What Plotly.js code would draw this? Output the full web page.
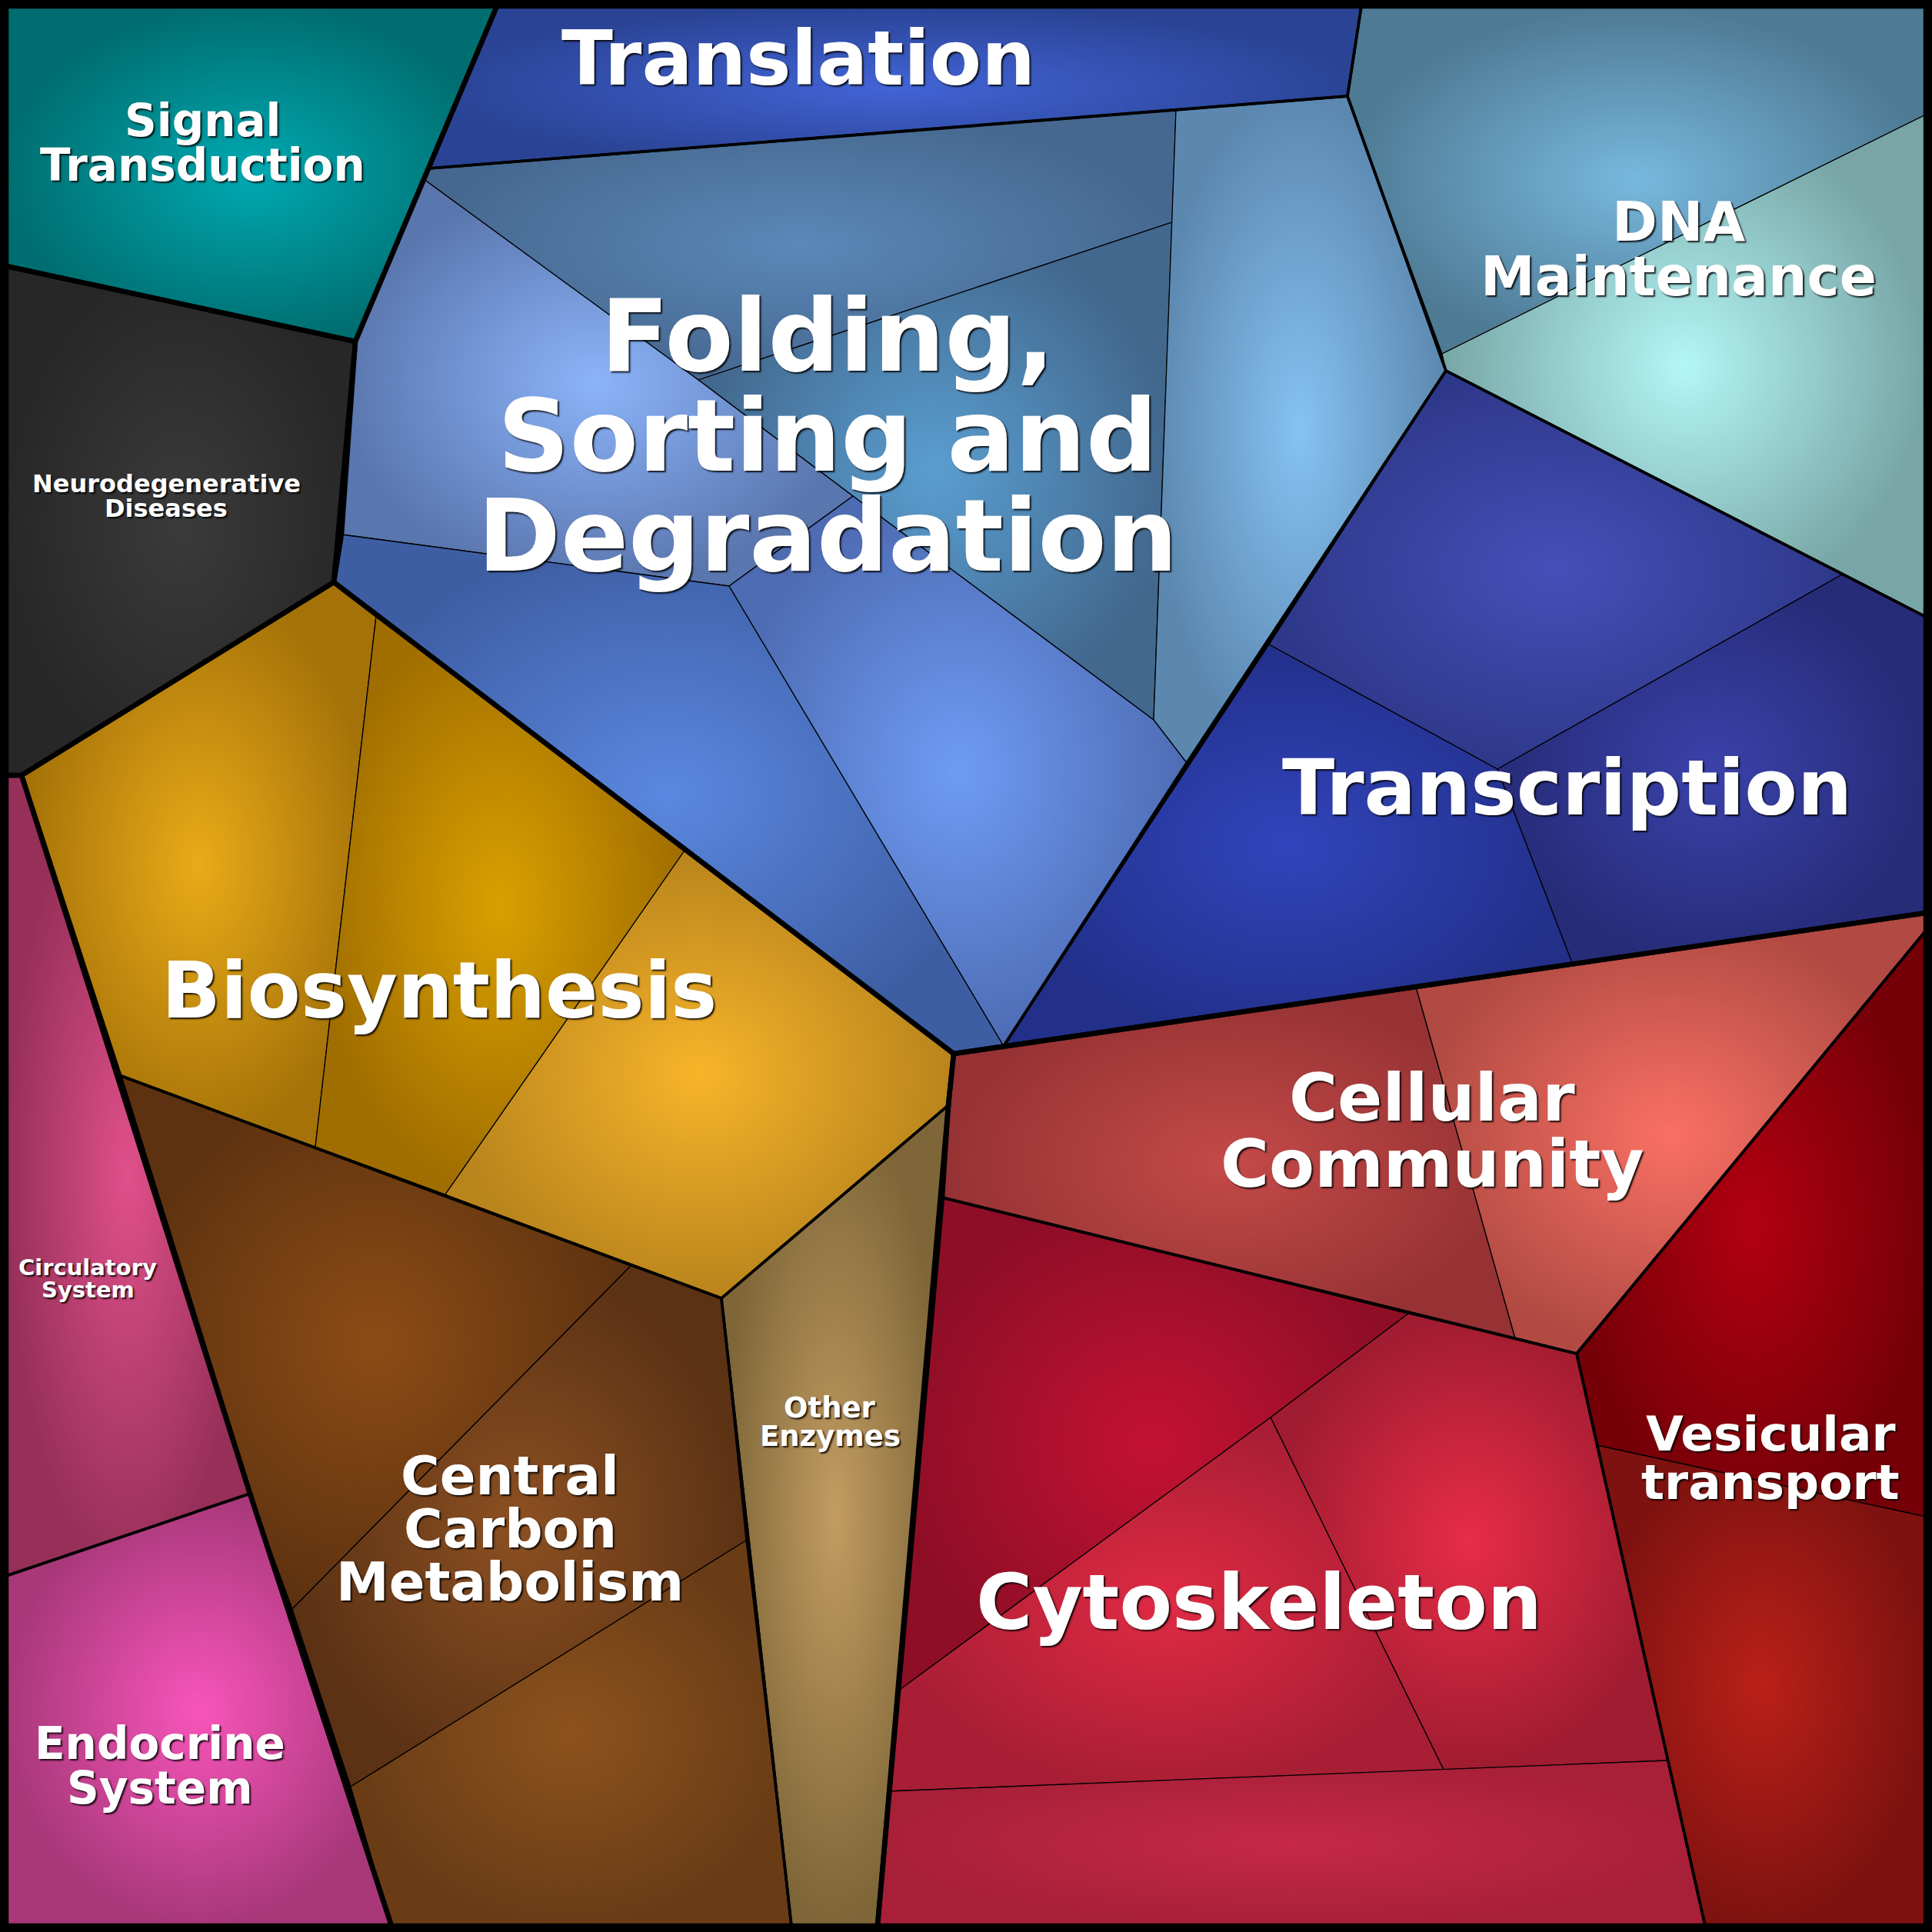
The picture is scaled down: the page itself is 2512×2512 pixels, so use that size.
<!DOCTYPE html>
<html>
<head>
<meta charset="utf-8">
<script src="https://cdn.plot.ly/plotly-3.0.1.min.js"></script>
<style>
html,body{margin:0;padding:0;background:#000;}
#chart{width:2512px;height:2512px;}
</style>
</head>
<body>
<div id="chart"></div>
<script>
// ---- Data: Voronoi treemap cells (vertices, in pixels) ----
const categories = ["Signal Transduction","Translation","Folding, Sorting and Degradation","DNA Maintenance",
  "Transcription","Neurodegenerative Diseases","Biosynthesis","Circulatory System","Endocrine System",
  "Central Carbon Metabolism","Other Enzymes","Cellular Community","Vesicular transport","Cytoskeleton"];

const groups = ["Genetic Information Processing","Signal Transduction","Neurodegenerative Diseases",
  "Metabolism","Organismal Systems","Cellular Processes"];

// sub-cells: category index, polygon x, polygon y, centre colour, edge colour
const cellCategory = [0,1, 2,2,2,2,2,2, 3,3, 4,4,4, 5, 6,6,6, 7, 8, 9,9,9, 10, 11,11, 12,12, 13,13,13,13];
const cellX = [
  [8,646,557,462,8],
  [646,1770,1752,1529,557],
  [557,1529,1524,908,551],
  [908,1524,1500,1109],
  [1529,1752,1880,1543,1500,1524],
  [551,908,1109,948,444,462],
  [444,948,1305,1240,434],
  [948,1109,1500,1543,1305],
  [1770,2504,2504,1875,1752],
  [1875,2504,2504,1880],
  [1880,2395,1947,1650],
  [1650,1947,2045,1305],
  [1947,2395,2504,2504,2045],
  [8,462,444,434,28,8],
  [28,434,489,410,155],
  [489,890,579,410],
  [890,1240,1233,938,579],
  [8,28,325,8],
  [8,325,509,8],
  [155,820,380,325],
  [820,938,970,456,380],
  [456,970,1029,509],
  [938,1233,1141,1029],
  [1240,1841,1970,1225],
  [1841,2504,2504,2050,1970],
  [2504,2504,2076,2050],
  [2076,2504,2504,2217],
  [1225,1831,1652,1167],
  [1831,2050,2168,1877,1652],
  [1167,1652,1877,1156],
  [1156,1877,2168,2217,1141]
];
const cellY = [
  [8,8,219,444,346],
  [8,8,125,143,219],
  [219,143,289,494,233],
  [494,289,936,645],
  [143,125,482,992,936,289],
  [233,494,645,762,695,444],
  [695,762,1360,1370,757],
  [762,645,936,992,1360],
  [8,8,149,460,125],
  [460,149,802,482],
  [482,747,1000,838],
  [838,1000,1254,1360],
  [1000,747,802,1187,1254],
  [346,444,695,757,1008,1008],
  [1008,757,801,1491,1398],
  [801,1106,1553,1491],
  [1106,1370,1437,1688,1553],
  [1008,1008,1942,2049],
  [2049,1942,2504,2504],
  [1398,1646,2092,1942],
  [1646,1688,2003,2323,2092],
  [2323,2003,2504,2504],
  [1688,1437,2504,2504],
  [1370,1283,1740,1557],
  [1283,1187,1210,1760,1740],
  [1210,1972,1879,1760],
  [1879,1972,2504,2504],
  [1557,1708,1843,2199],
  [1708,1760,2289,2301,1843],
  [2199,1843,2301,2329],
  [2329,2301,2289,2504,2504]
];
const cellInner = ["#00a9b2","#4264d6","#5a88b8","#5a9ed0","#86c2f2","#8cb4fa","#5a88e0","#6e9cf4",
  "#78b8de","#b4f6f6","#4450b8","#3244bc","#3a42aa","#3b3b3b","#eaaa18","#daa000","#f8b42a",
  "#e0508a","#f855ba","#8c4c16","#8c5022","#8c521e","#c29c62","#c44a48","#fa7064",
  "#b20012","#ba2018","#c41232","#e82c48","#e02a44","#c62848"];
const cellOuter = ["#006e70","#2a4394","#466890","#42688e","#5c88b0","#5a76ae","#3e5ea4","#4e6cb4",
  "#4e7a94","#78a6a6","#2e388a","#22308a","#262c78","#272727","#a47208","#a06e00","#b8841c",
  "#963058","#a8387a","#5e3210","#5c3214","#6a3c16","#7e6638","#963234","#b04a42",
  "#760008","#7e1210","#8e0e26","#a01c30","#a81e34","#a82038"];

// category outlines
const catX = [
  [8,646,557,462,8],
  [646,1770,1752,1529,557],
  [557,1529,1752,1880,1543,1305,1240,434,444,462],
  [1770,2504,2504,1880,1752],
  [1880,2504,2504,1305],
  [8,462,444,434,28,8],
  [28,434,1240,1233,938,155],
  [8,28,325,8],
  [8,325,509,8],
  [155,938,1029,509,325],
  [938,1233,1141,1029],
  [1240,2504,2504,2050,1225],
  [2504,2504,2217,2050],
  [1225,2050,2217,1141]
];
const catY = [
  [8,8,219,444,346],
  [8,8,125,143,219],
  [219,143,125,482,992,1360,1370,757,695,444],
  [8,8,802,482,125],
  [482,802,1187,1360],
  [346,444,695,757,1008,1008],
  [1008,757,1370,1437,1688,1398],
  [1008,1008,1942,2049],
  [2049,1942,2504,2504],
  [1398,1688,2504,2504,1942],
  [1688,1437,2504,2504],
  [1370,1187,1210,1760,1557],
  [1210,2504,2504,1760],
  [1557,1760,2504,2504]
];
// group outlines
const grpX = [
  [646,2504,2504,1305,1240,434,462,557],
  [8,646,557,462,8],
  [8,462,444,434,28,8],
  [28,434,1240,1233,1141,509,325,155],
  [8,28,325,509,8],
  [1240,2504,2504,1141,1225,1233]
];
const grpY = [
  [8,8,1187,1360,1370,757,444,219],
  [8,8,219,444,346],
  [346,444,695,757,1008,1008],
  [1008,757,1370,1437,2504,2504,1942,1398],
  [1008,1008,1942,2504,2504],
  [1370,1187,2504,2504,1557,1437]
];

// labels
const labelLines = [["Signal","Transduction"],["Translation"],["Folding,","Sorting and","Degradation"],
  ["DNA","Maintenance"],["Transcription"],["Neurodegenerative","Diseases"],["Biosynthesis"],
  ["Circulatory","System"],["Endocrine","System"],["Central","Carbon","Metabolism"],["Other","Enzymes"],
  ["Cellular","Community"],["Vesicular","transport"],["Cytoskeleton"]];
const labelX = [263,1038,1076,2182,2037,216,571,114,208,663,1079,1862,2302,1637];
const labelBaseline = [177,110,482,313,1059,640,1323,1658,2287,1943,1843,1457,1887,2118];
const labelSize = [58,98,130,71,100,32,101,29,58,69,37,86,63,100];

// ---- Build traces ----
const traces = [];
function close(a){ return a.concat([a[0]]); }
for (let i = 0; i < cellX.length; i++) {
  traces.push({
    type: 'scatter', mode: 'lines', x: close(cellX[i]), y: close(cellY[i]),
    fill: 'toself', fillcolor: cellInner[i],
    fillgradient: {type: 'radial', colorscale: [[0, cellInner[i]], [1, cellOuter[i]]]},
    line: {color: '#000', width: 1.3}, hoverinfo: 'skip', showlegend: false,
    name: categories[cellCategory[i]]
  });
}
for (let i = 0; i < catX.length; i++) {
  traces.push({type: 'scatter', mode: 'lines', x: close(catX[i]), y: close(catY[i]),
    line: {color: '#000', width: 3.6}, hoverinfo: 'skip', showlegend: false, name: categories[i]});
}
for (let i = 0; i < grpX.length; i++) {
  traces.push({type: 'scatter', mode: 'lines', x: close(grpX[i]), y: close(grpY[i]),
    line: {color: '#000', width: 6.5}, hoverinfo: 'skip', showlegend: false, name: groups[i]});
}

const annotations = [];
labelLines.forEach((lines, i) => {
  const s = labelSize[i];
  lines.forEach((t, k) => {
    annotations.push({
      x: labelX[i], y: labelBaseline[i] + k * s - 0.35 * s, xref: 'x', yref: 'y',
      text: t, showarrow: false, xanchor: 'center', yanchor: 'middle',
      font: {family: 'DejaVu Sans', size: s, color: '#ffffff', weight: 'bold',
             shadow: '2px 2px 2px rgba(0,0,0,0.85)'}
    });
  });
});

const layout = {
  width: 2512, height: 2512,
  margin: {l: 0, r: 0, t: 0, b: 0, pad: 0},
  paper_bgcolor: '#000', plot_bgcolor: '#000',
  showlegend: false,
  xaxis: {range: [0, 2512], visible: false, fixedrange: true},
  yaxis: {range: [2512, 0], visible: false, fixedrange: true},
  annotations: annotations
};
Plotly.newPlot('chart', traces, layout, {displayModeBar: false, staticPlot: true});
</script>
</body>
</html>
